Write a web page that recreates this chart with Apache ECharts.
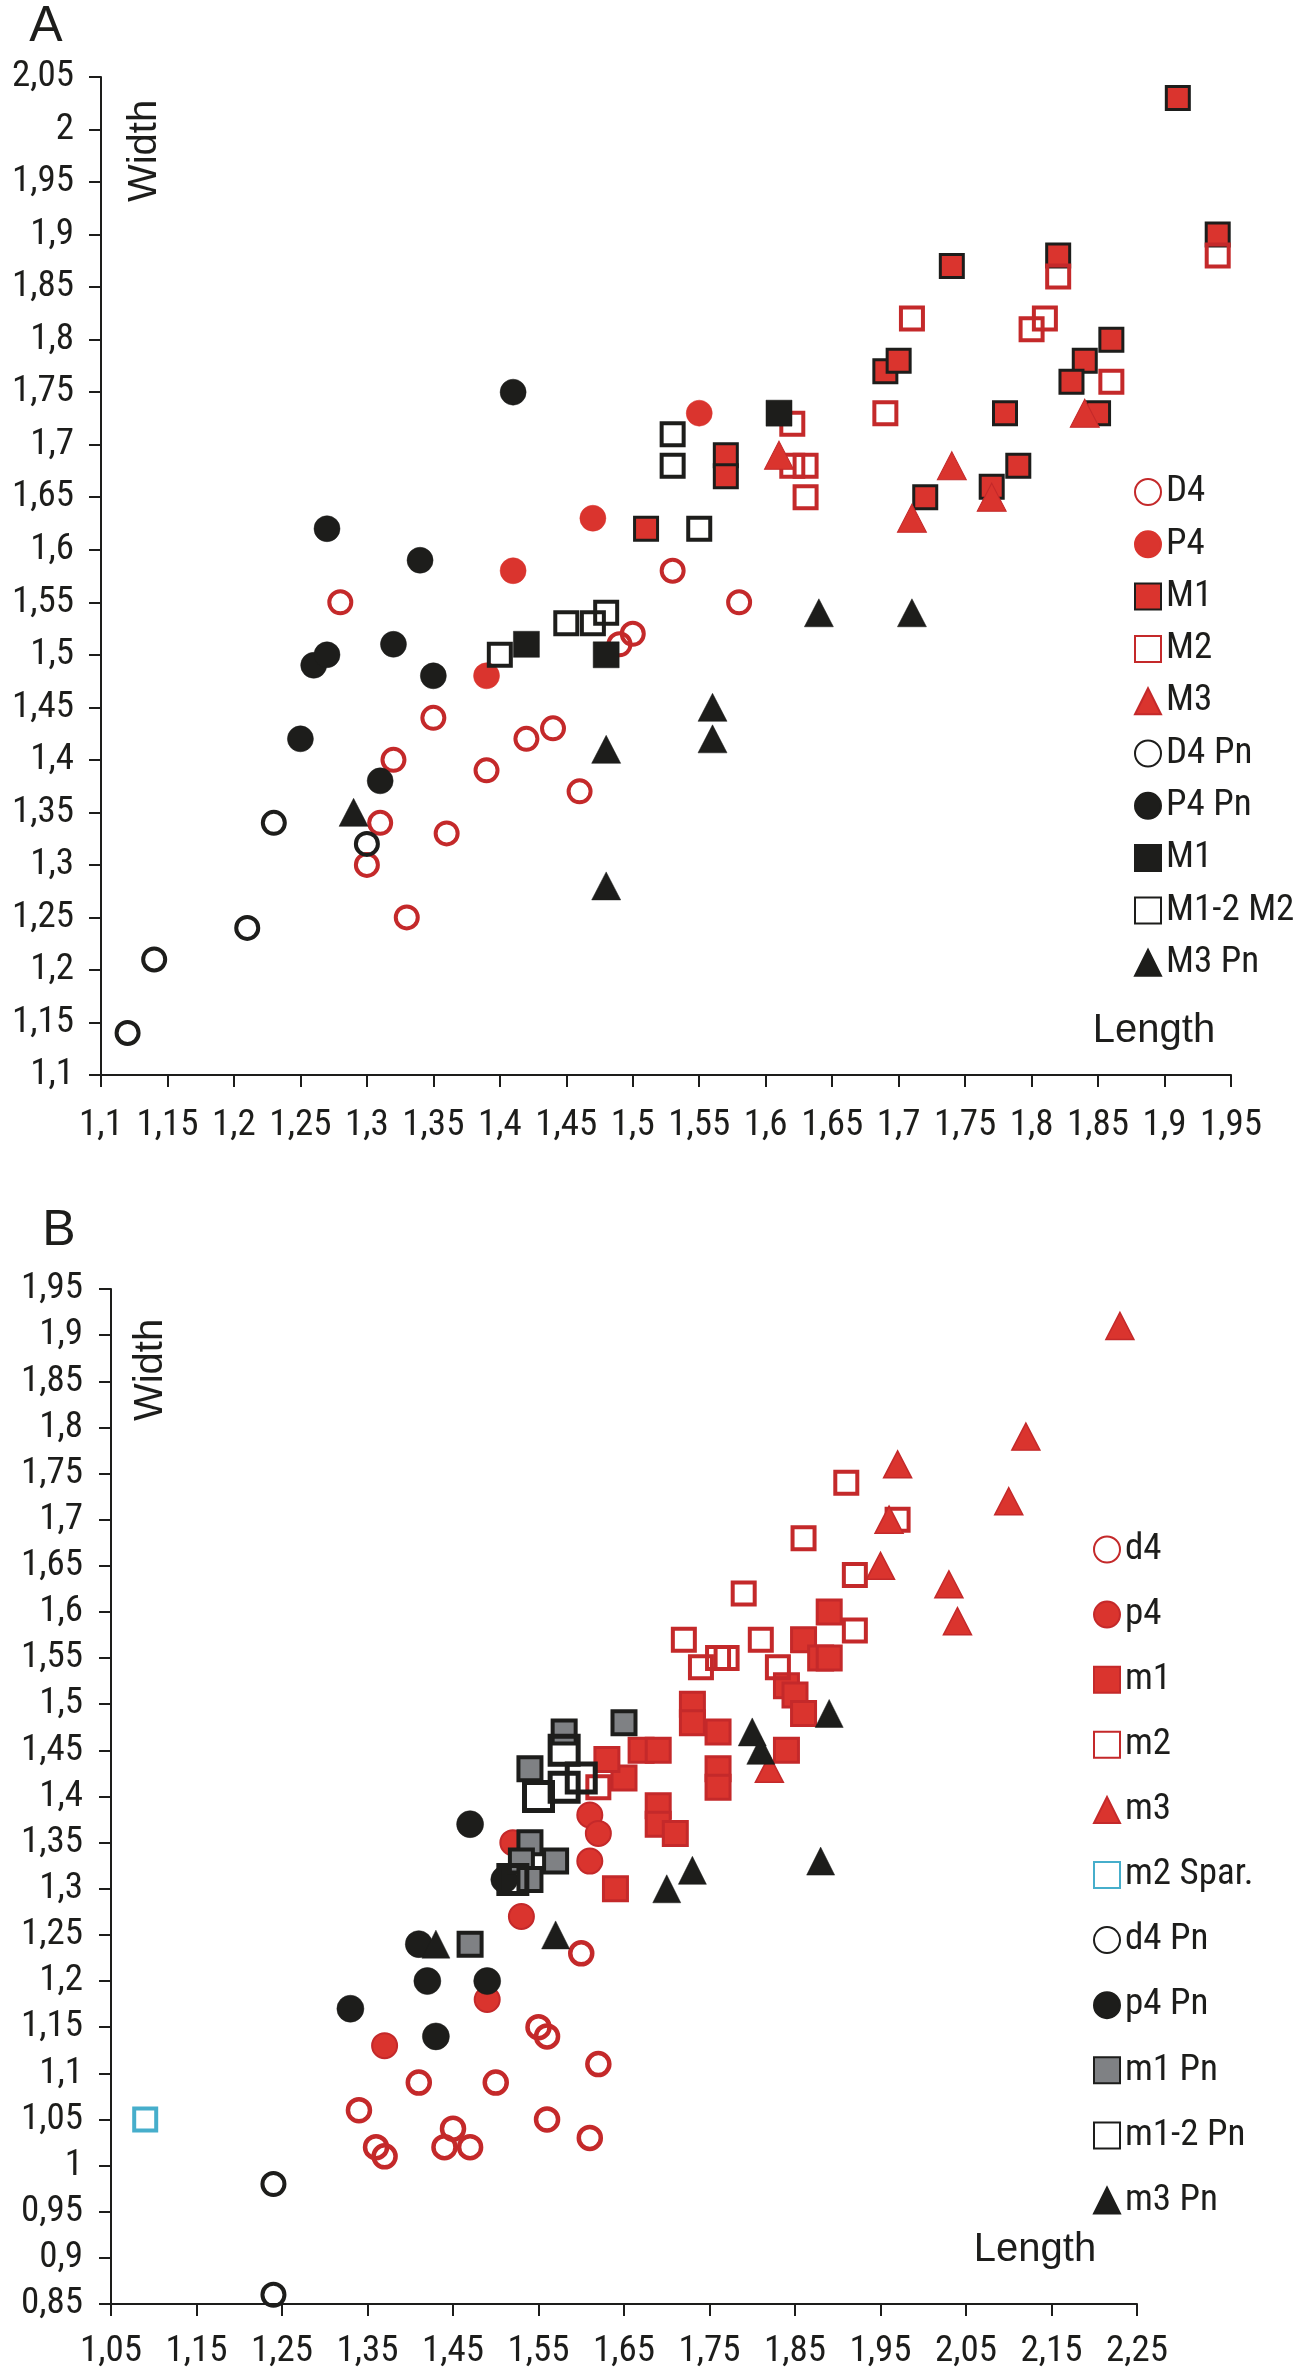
<!DOCTYPE html>
<html>
<head>
<meta charset="utf-8">
<script src="https://cdn.jsdelivr.net/npm/echarts@6/dist/echarts.min.js"></script>
<style>
html,body{margin:0;padding:0;background:#fff;}
#chart{width:1298px;height:2375px;}
</style>
</head>
<body>
<div id="chart"></div>
<script>
// ---------- Panel A data: [Length, Width] ----------
const A_D4 = [[1.28,1.55],[1.35,1.44],[1.32,1.40],[1.39,1.39],[1.42,1.42],[1.44,1.43],[1.46,1.37],[1.31,1.34],[1.30,1.30],[1.36,1.33],[1.33,1.25],[1.49,1.51],[1.50,1.52],[1.53,1.58],[1.58,1.55]];
const A_P4 = [[1.41,1.58],[1.39,1.48],[1.47,1.63],[1.55,1.73]];
const A_M1 = [[1.91,2.03],[1.94,1.90],[1.74,1.87],[1.82,1.88],[1.86,1.80],[1.84,1.78],[1.83,1.76],[1.69,1.77],[1.70,1.78],[1.78,1.73],[1.85,1.73],[1.79,1.68],[1.77,1.66],[1.72,1.65],[1.57,1.69],[1.57,1.67],[1.51,1.62]];
const A_M2 = [[1.71,1.82],[1.81,1.82],[1.80,1.81],[1.82,1.86],[1.94,1.88],[1.86,1.76],[1.69,1.73],[1.62,1.72],[1.62,1.68],[1.63,1.68],[1.63,1.65]];
const A_M3 = [[1.61,1.69],[1.74,1.68],[1.71,1.63],[1.77,1.65],[1.84,1.73]];
const A_D4Pn = [[1.12,1.14],[1.14,1.21],[1.21,1.24],[1.23,1.34],[1.30,1.32]];
const A_P4Pn = [[1.25,1.42],[1.26,1.49],[1.27,1.50],[1.31,1.38],[1.32,1.51],[1.35,1.48],[1.34,1.59],[1.27,1.62],[1.41,1.75]];
const A_M1Pn = [[1.42,1.51],[1.48,1.50],[1.61,1.73]];
const A_M12Pn = [[1.40,1.50],[1.45,1.53],[1.47,1.53],[1.48,1.54],[1.53,1.71],[1.53,1.68],[1.55,1.62]];
const A_M3Pn = [[1.48,1.41],[1.48,1.28],[1.29,1.35],[1.56,1.45],[1.56,1.42],[1.64,1.54],[1.71,1.54]];

// ---------- Panel B data: [Length, Width] ----------
const B_d4 = [[1.34,1.06],[1.36,1.02],[1.37,1.01],[1.41,1.09],[1.45,1.04],[1.44,1.02],[1.47,1.02],[1.50,1.09],[1.55,1.15],[1.56,1.14],[1.56,1.05],[1.60,1.23],[1.62,1.11],[1.61,1.03]];
const B_p4 = [[1.37,1.13],[1.49,1.18],[1.53,1.27],[1.52,1.35],[1.61,1.38],[1.62,1.36],[1.61,1.33]];
const B_m1 = [[1.64,1.30],[1.69,1.39],[1.69,1.37],[1.71,1.36],[1.76,1.43],[1.76,1.41],[1.65,1.42],[1.63,1.44],[1.67,1.45],[1.69,1.45],[1.73,1.50],[1.73,1.48],[1.76,1.47],[1.84,1.52],[1.85,1.51],[1.86,1.49],[1.84,1.45],[1.86,1.57],[1.88,1.55],[1.89,1.55],[1.89,1.60]];
const B_m2 = [[1.62,1.41],[1.72,1.57],[1.74,1.54],[1.76,1.55],[1.77,1.55],[1.81,1.57],[1.83,1.54],[1.79,1.62],[1.92,1.58],[1.92,1.64],[1.86,1.68],[1.91,1.74],[1.97,1.70]];
const B_m3 = [[2.23,1.91],[2.12,1.79],[1.97,1.76],[2.10,1.72],[1.96,1.70],[1.95,1.65],[2.03,1.63],[2.04,1.59],[1.82,1.43]];
const B_m2Spar = [[1.09,1.05]];
const B_d4Pn = [[1.24,0.98],[1.24,0.86]];
const B_p4Pn = [[1.47,1.37],[1.41,1.24],[1.42,1.20],[1.49,1.20],[1.33,1.17],[1.43,1.14],[1.51,1.31]];
const B_m1Pn = [[1.54,1.43],[1.54,1.35],[1.53,1.33],[1.57,1.33],[1.54,1.31],[1.47,1.24],[1.58,1.47],[1.65,1.48]];
const B_m12Pn = [[1.55,1.40],[1.58,1.41],[1.60,1.42],[1.58,1.45],[1.52,1.31]];
const B_m3Pn = [[1.43,1.24],[1.57,1.25],[1.70,1.30],[1.73,1.32],[1.88,1.33],[1.89,1.49],[1.80,1.47],[1.81,1.45]];

// ---------- Axis ticks ----------
const A_xRange = [1.1, 1.95], A_yRange = [1.1, 2.05], A_step = 0.05;
const B_yRange = [0.85, 1.95], B_yStep = 0.05;
const B_xTicks = [1.05,1.15,1.25,1.35,1.45,1.55,1.65,1.75,1.85,1.95,2.05,2.15,2.25];

const NARROW = '"Roboto Condensed", "Open Sans Condensed", "DejaVu Sans Condensed", "Liberation Sans", sans-serif';
const NSIZE = 37;
const LSIZE = 37;
const REG = '"Liberation Sans", Arial, sans-serif';
const INK = '#1d1d1b';
const RED = '#da342e';
const RED_D = '#c4292a';
const GREY = '#7f8184';
const BLUE = '#46aecb';
const NONE = 'rgba(0,0,0,0)';

const fmt = v => String(+(+v).toFixed(2)).replace('.', ',');

function axisCommon(gi, margin){
  return {
    gridIndex: gi, type: 'value', splitLine: {show: false},
    axisLine: {show: true, onZero: false, lineStyle: {color: INK, width: 2}},
    axisTick: {show: true, inside: false, length: 12, lineStyle: {color: INK, width: 2}},
    axisLabel: {color: INK, fontFamily: NARROW, fontSize: NSIZE, lineHeight: 40, margin: margin, formatter: fmt,
      showMinLabel: true, showMaxLabel: true, hideOverlap: false}
  };
}

function S(name, data, gi, symbol, size, fill, stroke, bw){
  return {
    type: 'scatter', name: name, data: data,
    xAxisIndex: gi, yAxisIndex: gi,
    symbol: symbol, symbolSize: size,
    itemStyle: {color: fill, borderColor: stroke, borderWidth: bw, opacity: 1},
    emphasis: {disabled: true}, silent: true
  };
}

const seriesA = [
  S('D4', A_D4, 0, 'circle', 22, NONE, RED_D, 4),
  S('P4', A_P4, 0, 'circle', 26, RED, RED, 0.5),
  S('M1', A_M1, 0, 'rect', 23, RED, INK, 3),
  S('M2', A_M2, 0, 'rect', 22, NONE, RED_D, 4),
  S('M3', A_M3, 0, 'triangle', [29, 28], RED, RED_D, 1),
  S('D4 Pn', A_D4Pn, 0, 'circle', 22, NONE, INK, 4),
  S('P4 Pn', A_P4Pn, 0, 'circle', 26, INK, INK, 0.5),
  S('M1 ', A_M1Pn, 0, 'rect', 26, INK, INK, 0.5),
  S('M1-2 M2', A_M12Pn, 0, 'rect', 22, NONE, INK, 4),
  S('M3 Pn', A_M3Pn, 0, 'triangle', [29, 28], INK, INK, 0.5)
];
const seriesB = [
  S('d4', B_d4, 1, 'circle', 22, NONE, RED_D, 4.5),
  S('p4', B_p4, 1, 'circle', 25, RED, RED_D, 2),
  S('m1', B_m1, 1, 'rect', 24, RED, RED_D, 3),
  S('m2', B_m2, 1, 'rect', 22, NONE, RED_D, 4),
  S('m3', B_m3, 1, 'triangle', [28, 27], RED, RED_D, 1.5),
  S('m2 Spar.', B_m2Spar, 1, 'rect', 22, NONE, BLUE, 4),
  S('d4 Pn', B_d4Pn, 1, 'circle', 22, NONE, INK, 4),
  S('p4 Pn', B_p4Pn, 1, 'circle', 27, INK, INK, 0.5),
  S('m1 Pn', B_m1Pn, 1, 'rect', 23, GREY, INK, 4),
  S('m1-2 Pn', B_m12Pn, 1, 'rect', 28, NONE, INK, 5),
  S('m3 Pn', B_m3Pn, 1, 'triangle', [28, 28], INK, INK, 0.5)
];

const xA = Object.assign(axisCommon(0, 31), {min: A_xRange[0], max: A_xRange[1], interval: A_step});
const yA = Object.assign(axisCommon(0, 27), {min: A_yRange[0], max: A_yRange[1], interval: A_step});
const xB = axisCommon(1, 28);
Object.assign(xB, {min: B_xTicks[0], max: B_xTicks[B_xTicks.length - 1]});
xB.axisTick.customValues = B_xTicks;
xB.axisLabel.customValues = B_xTicks;
const yB = Object.assign(axisCommon(1, 28), {min: B_yRange[0], max: B_yRange[1], interval: B_yStep});

function legend(series, left, top, gap){
  return {
    orient: 'vertical', left: left, top: top, padding: 0,
    itemWidth: 26, itemHeight: 26, itemGap: gap, selectedMode: false,
    data: series.map(s => s.name),
    textStyle: {fontFamily: NARROW, fontSize: LSIZE, color: INK}
  };
}

function txt(text, x, y, size, rot, font){
  return {type: 'text', x: x, y: y, rotation: rot || 0, silent: true,
    style: {text: text, fontFamily: font || REG, fontSize: size, fill: INK, align: 'center', verticalAlign: 'middle'}};
}

const chart = echarts.init(document.getElementById('chart'), null, {renderer: 'canvas'});
chart.setOption({
  animation: false,
  backgroundColor: '#fff',
  grid: [
    {left: 101, top: 77, width: 1130, height: 998},
    {left: 111, top: 1289, width: 1026, height: 1015}
  ],
  xAxis: [xA, xB],
  yAxis: [yA, yB],
  legend: [legend(seriesA, 1134, 473.5, 15.3), legend(seriesB, 1093, 1531, 28.1)],
  series: seriesA.concat(seriesB),
  graphic: [
    txt('A', 46, 27, 50),
    txt('B', 59, 1231, 50),
    txt('Width', 145, 151, 40, Math.PI / 2),
    txt('Width', 151, 1370, 40, Math.PI / 2),
    txt('Length', 1154, 1031, 40),
    txt('Length', 1035, 2250, 40)
  ]
});
</script>
</body>
</html>
